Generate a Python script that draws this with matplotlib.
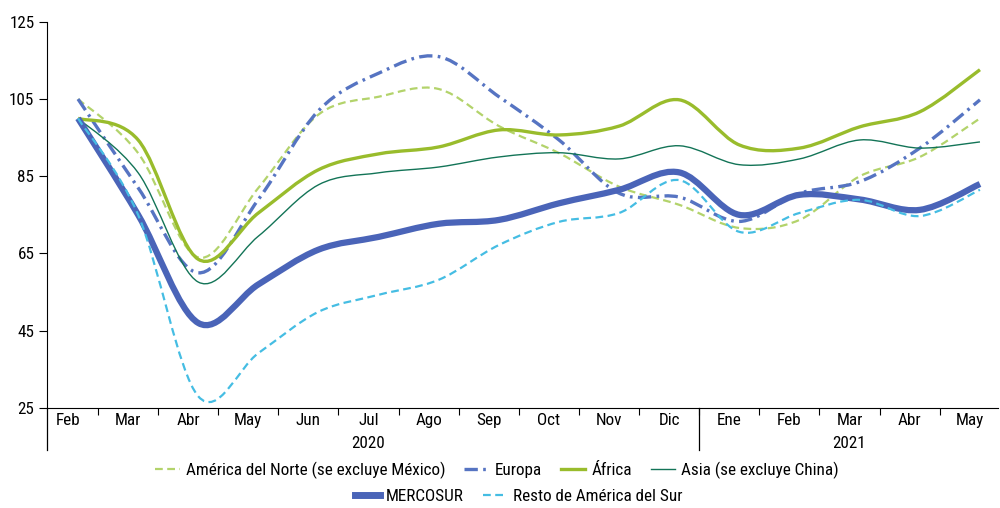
import numpy as np
import matplotlib.pyplot as plt
from matplotlib.path import Path
from matplotlib.patches import PathPatch
from matplotlib.lines import Line2D
import matplotlib.transforms as mtransforms

plt.rcParams['font.family'] = ['DejaVu Sans Condensed', 'Roboto Condensed', 'Liberation Sans Narrow', 'DejaVu Sans']
plt.rcParams['font.stretch'] = 'condensed'
FS = 12.3

months = ['Feb', 'Mar', 'Abr', 'May', 'Jun', 'Jul', 'Ago', 'Sep', 'Oct', 'Nov', 'Dic',
          'Ene', 'Feb', 'Mar', 'Abr', 'May']
years = ['2020', '2021']
year_spans = [(0, 10), (11, 15)]

america_norte = [105, 91, 64, 82, 101, 105.6, 107.6, 98, 91, 82.3, 77.6, 71.6, 73.7, 85, 90, 100]
europa = [105, 82, 60, 79, 102, 111.7, 116, 105.6, 94.4, 80.6, 79.6, 73.3, 80.6, 83.6, 92.3, 104.8]
africa = [100, 94.4, 63.5, 75.5, 86.7, 90.8, 92.6, 97, 95.7, 98, 104.8, 93.1, 92.3, 97.8, 101.7, 112.6]
asia = [100, 85.9, 57.6, 69.5, 82.8, 85.9, 87.4, 90, 91.1, 89.5, 92.9, 88, 89.5, 94.4, 92.3, 93.9]
mercosur = [100, 75, 47, 57, 66, 69.3, 72.7, 73.7, 78, 81.5, 86, 75, 80.2, 79, 76.3, 83]
resto_sur = [100, 75, 28, 39.2, 49.9, 54.3, 58.2, 67.2, 73.2, 75.5, 84, 70.6, 75.5, 78.9, 74.7, 81.5]

series = [
    ('América del Norte (se excluye México)', america_norte, '#b3d36b', 1.6, (0, (3.5, 2))),
    ('Europa', europa, '#5674c2', 2.4, (0, (4, 1.6, 0.8, 1.6))),
    ('África', africa, '#99bc2c', 2.4, '-'),
    ('Asia (se excluye China)', asia, '#137457', 1.0, '-'),
    ('MERCOSUR', mercosur, '#4a64b8', 4.5, '-'),
    ('Resto de América del Sur', resto_sur, '#45bde3', 1.6, (0, (3.5, 2))),
]


def smooth_path(ys):
    # bezier segments like a spreadsheet "smoothed line"
    pts = np.column_stack([np.arange(len(ys), dtype=float), np.asarray(ys, dtype=float)])
    n = len(pts)
    verts = [pts[0]]
    codes = [Path.MOVETO]
    for i in range(n - 1):
        p0 = pts[max(i - 1, 0)]
        p1 = pts[i]
        p2 = pts[i + 1]
        p3 = pts[min(i + 2, n - 1)]
        verts += [p1 + (p2 - p0) / 6, p2 - (p3 - p1) / 6, p2]
        codes += [Path.CURVE4] * 3
    return Path(verts, codes)


fig = plt.figure(figsize=(10, 5.08), dpi=100)
ax = fig.add_axes([0.047, 0.197, 0.951, 0.760])

handles = []
for name, vals, color, lw, ls in series:
    patch = PathPatch(smooth_path(vals), fill=False, edgecolor=color, lw=lw,
                      linestyle=ls, capstyle='butt', joinstyle='round')
    ax.add_patch(patch)
    handles.append(Line2D([], [], color=color, lw=lw if lw < 4 else 5, linestyle=ls))

ax.set_xlim(-0.516, 15.3)
ax.set_ylim(25, 125)
ax.set_yticks(np.arange(25, 126, 20))
ax.tick_params(axis='y', direction='out', length=6, labelsize=FS, pad=3)

boundaries = [i + 0.33 for i in range(15)]
ax.set_xticks(boundaries)
ax.set_xticklabels([])
ax.tick_params(axis='x', which='major', direction='out', length=5)
ax.set_xticks([i - 0.17 for i in range(len(months))], minor=True)
ax.set_xticklabels(months, minor=True, fontsize=FS)
ax.tick_params(axis='x', which='minor', length=0, pad=4)

ax.spines['top'].set_visible(False)
ax.spines['right'].set_visible(False)

trans = mtransforms.blended_transform_factory(ax.transData, ax.transAxes)
for xv in [-0.516, 10.33]:
    ax.add_line(Line2D([xv, xv], [0, -0.11], transform=trans, color='black', lw=0.9, clip_on=False))
for label, (a, b) in zip(years, year_spans):
    ax.text((a + b) / 2 - 0.17, -0.092, label, transform=trans, ha='center', va='center', fontsize=FS)

labels = [s[0] for s in series]
leg_kw = dict(loc='center', frameon=False, fontsize=FS, handlelength=1.45,
              handletextpad=0.35, columnspacing=1.1)
fig.legend(handles[:4], labels[:4], bbox_to_anchor=(0.497, 0.075), ncol=4, **leg_kw)
fig.legend(handles[4:], labels[4:], bbox_to_anchor=(0.519, 0.022), ncol=2, **leg_kw)

fig.savefig('out.png', dpi=100)
